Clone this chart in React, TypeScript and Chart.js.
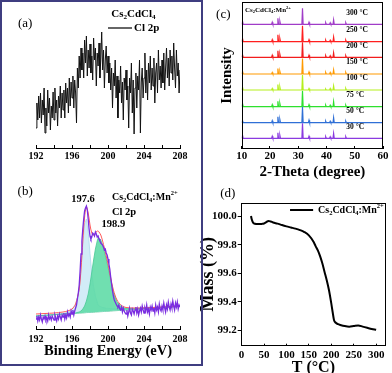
import React, { useEffect, useRef } from "react";
import { Chart, registerables } from "chart.js";

Chart.register(...registerables);

const SERIF = "'Liberation Serif', 'Times New Roman', serif";

// ---------------- Panel (a): Cs2CdCl4, Cl 2p XPS (0.1 eV grid from 192 eV) ----------------
const energyStart = 192;
const energyStep = 0.1;
const cl2pUndoped = [
  20, 45, 28, 52, 30, 55, 25, 48, 33, 60,
  15, 40, 22, 58, 35, 50, 18, 42, 30, 56,
  28, 60, 35, 48, 22, 52, 40, 62, 30, 55,
  38, 58, 30, 65, 45, 60, 35, 70, 42, 66,
  50, 72, 40, 68, 55, 25, 80, 60, 92, 70,
  100, 78, 95, 70, 108, 85, 112, 72, 98, 80,
  104, 75, 92, 68, 110, 88, 100, 62, 95, 82,
  105, 70, 90, 116, 78, 98, 60, 88, 102, 75,
  92, 65, 85, 58, 80, 40, 75, 62, 88, 50,
  72, 30, 68, 55, 82, 45, 66, 28, 70, 58,
  78, 48, 62, 20, 70, 55, 85, 35, 68, 14,
  60, 75, 40, 72, 58, 88, 15, 66, 80, 50,
  70, 95, 55, 78, 48, 85, 65, 92, 58, 80,
  62, 90, 45, 75, 85, 55, 98, 68, 82, 60,
  88, 65, 95, 58, 80, 100, 70, 90, 62, 98,
  75, 92, 68, 105, 80, 60, 98, 72, 85, 55,
  78,
];

// ---------------- Panel (b): Cs2CdCl4:Mn2+, Cl 2p XPS + fit ----------------
const cl2pDoped = [
  10, 13, 8, 12, 9, 14, 10, 7, 12, 10,
  13, 9, 11, 8, 14, 10, 12, 9, 13, 11,
  9, 14, 11, 8, 13, 10, 15, 12, 9, 14,
  12, 16, 10, 14, 11, 17, 13, 15, 12, 18,
  15, 19, 14, 18, 21, 24, 30, 36, 44, 58,
  75, 88, 100, 110, 118, 121, 123, 119, 110, 100,
  93, 90, 92, 96, 95, 93, 97, 95, 92, 93,
  90, 88, 86, 85, 84, 82, 79, 80, 76, 74,
  70, 65, 60, 52, 45, 38, 33, 29, 27, 25,
  23, 22, 24, 20, 19, 22, 17, 21, 18, 16,
  15, 19, 13, 17, 21, 16, 14, 20, 18, 15,
  19, 22, 16, 20, 14, 18, 21, 17, 23, 19,
  16, 21, 18, 24, 17, 20, 15, 22, 19, 23,
  18, 21, 16, 24, 19, 22, 17, 25, 20, 18,
  23, 19, 26, 21, 17, 24, 20, 27, 22, 19,
  25, 21, 28, 23, 19, 26, 22, 27, 20, 24,
  22,
];
const fitEnergy = [192, 193, 194, 195, 195.5, 196, 196.4, 196.8, 197.0, 197.2, 197.4, 197.6, 197.8, 198.0, 198.2, 198.4, 198.6, 198.8, 198.9, 199.0, 199.2, 199.4, 199.6, 199.8, 200.0, 200.3, 200.6, 201.0, 201.5, 202, 203, 204, 205, 206, 207, 208];
const fitBaseline = [13, 13.6, 14.2, 14.8, 15.1, 15.4, 15.6, 15.9, 16.0, 16.1, 16.2, 16.4, 16.5, 16.6, 16.7, 16.8, 17.0, 17.1, 17.1, 17.2, 17.3, 17.4, 17.6, 17.7, 17.8, 18.0, 18.2, 18.4, 18.7, 19.0, 19.6, 20.2, 20.8, 21.4, 22.0, 22.6];
const fitPeak1976 = [13.1, 13.7, 14.4, 15.5, 16.5, 19.5, 25, 39, 58, 84, 105, 110, 97.5, 75.5, 55.5, 42, 33, 27, 24, 23, 22.3, 21.4, 21.2, 20.7, 20.6, 20.3, 20.2, 20.3, 20.2, 20.2, 20.6, 21, 21.4, 21.9, 22.4, 22.9];
const fitPeak1989 = [13.1, 13.7, 14.4, 15.1, 15.4, 15.8, 16.1, 17, 18, 20, 23, 28, 35, 45, 57, 69, 80, 88, 91, 91, 89, 84, 77, 70, 62, 49, 37, 27, 22, 20.5, 20.3, 20.6, 21.1, 21.6, 22.1, 22.7];
const fitEnvelope = [15, 15.5, 16, 17, 18, 20, 25, 40, 60, 88, 112, 122, 116, 104, 96, 94, 96, 98, 98, 97, 94, 88, 81, 73, 65, 51, 39, 29, 23.5, 21.5, 21, 21.2, 21.5, 22, 22.5, 23];

// ---------------- Panel (c): XRD vs temperature ----------------
const xrdTemps = ["30 °C", "50 °C", "75 °C", "100 °C", "150 °C", "200 °C", "250 °C", "300 °C"];
const xrdOffsets = [10.7, 26.3, 42.3, 59, 75, 91.7, 107.3, 124.7];
const xrdPeakPositions = [10.3, 20.8, 22.8, 23.5, 31.5, 33.8, 39.7, 41.3, 42.5, 46.8];
const xrd30 = [3, 2, 5.5, 3, 15, 2, 1.5, 1.5, 5, 1.5];
const xrd50 = [2, 2, 6, 3, 16, 2.5, 1.5, 1.5, 5, 1.5];
const xrd75 = [3, 2, 5.5, 3, 16, 2, 1.5, 1.5, 5, 1.5];
const xrd100 = [2.5, 1.5, 5.5, 3, 15, 1.5, 1, 1.5, 4, 1.5];
const xrd150 = [2.5, 1.5, 5.5, 2.5, 15.5, 2, 1.5, 1.5, 4, 1.5];
const xrd200 = [2.5, 2, 6.5, 3, 15, 2, 1.5, 1.5, 4.5, 1.5];
const xrd250 = [3, 2, 7, 3, 16, 2, 1.5, 1.5, 4.5, 1.5];
const xrd300 = [3, 2, 6, 3, 16, 2, 1.5, 1.5, 4.5, 1.5];
const xrdColors = ["#8a3be0", "#2f6fd6", "#2ee02e", "#b5ef1c", "#ff9a00", "#f21d1d", "#ff1f1f", "#a03cc8"];

// ---------------- Panel (d): TGA ----------------
const tgaTemp = [21, 22, 24, 26, 30, 35, 40, 45, 50, 55, 60, 65, 70, 80, 90, 100, 110, 120, 130, 140, 150, 160, 165, 170, 175, 180, 185, 190, 195, 200, 203, 206, 210, 215, 220, 230, 240, 250, 260, 270, 280, 290, 300];
const tgaMass = [100.0, 99.985, 99.965, 99.952, 99.946, 99.944, 99.944, 99.945, 99.948, 99.957, 99.966, 99.962, 99.955, 99.947, 99.937, 99.928, 99.92, 99.912, 99.902, 99.888, 99.865, 99.822, 99.79, 99.76, 99.72, 99.67, 99.61, 99.55, 99.48, 99.39, 99.33, 99.275, 99.255, 99.245, 99.24, 99.232, 99.228, 99.232, 99.236, 99.228, 99.22, 99.212, 99.206];

// ---------------- helpers ----------------
type Seg = { t: string; s?: "sub" | "sup" };
const CS2CDCL4: Seg[] = [{ t: "Cs" }, { t: "2", s: "sub" }, { t: "CdCl" }, { t: "4", s: "sub" }];
const CS2CDCL4_MN: Seg[] = [...CS2CDCL4, { t: ":Mn" }, { t: "2+", s: "sup" }];

function drawRich(ctx: any, segs: Seg[], x: number, y: number, size: number, weight: string, align: string) {
  ctx.save();
  ctx.fillStyle = "#000";
  ctx.textBaseline = "middle";
  ctx.textAlign = "left";
  const fontFor = (s?: string) => `${weight} ${s ? size * 0.65 : size}px ${SERIF}`;
  let total = 0;
  for (const sg of segs) {
    ctx.font = fontFor(sg.s);
    total += ctx.measureText(sg.t).width;
  }
  let cx = align === "center" ? x - total / 2 : align === "right" ? x - total : x;
  for (const sg of segs) {
    ctx.font = fontFor(sg.s);
    const dy = sg.s === "sub" ? size * 0.3 : sg.s === "sup" ? -size * 0.35 : 0;
    ctx.fillText(sg.t, cx, y + dy);
    cx += ctx.measureText(sg.t).width;
  }
  ctx.restore();
}

const notesPlugin = {
  id: "notes",
  afterDraw(chart: any, _args: any, opts: any) {
    const items = (opts && opts.items) || [];
    const ctx = chart.ctx;
    const xs = chart.scales.x;
    const ys = chart.scales.y;
    for (const it of items) {
      if (it.kind === "line") {
        const py = ys.getPixelForValue(it.y);
        ctx.save();
        ctx.strokeStyle = "#000";
        ctx.lineWidth = it.width;
        ctx.beginPath();
        ctx.moveTo(xs.getPixelForValue(it.x1), py);
        ctx.lineTo(xs.getPixelForValue(it.x2), py);
        ctx.stroke();
        ctx.restore();
      } else {
        drawRich(ctx, it.segs, xs.getPixelForValue(it.x), ys.getPixelForValue(it.y), it.size, it.weight || "bold", it.align || "left");
      }
    }
  },
};

const framePlugin = {
  id: "frame",
  afterDraw(chart: any, _args: any, opts: any) {
    if (!opts || !opts.show) return;
    const { left, top, right, bottom } = chart.chartArea;
    const ctx = chart.ctx;
    ctx.save();
    ctx.strokeStyle = "#000";
    ctx.lineWidth = 1;
    const l = Math.round(left) + 0.5, t = Math.round(top) + 0.5;
    const r = Math.round(right) - 0.5, b = Math.round(bottom) - 0.5;
    ctx.strokeRect(l, t, r - l, b - t);
    ctx.restore();
  },
};

const tickFont = (size: number) => ({ family: SERIF, size, weight: "bold" as const });

function baseOptions(padding: any, notes: any[], frame: boolean, scales: any) {
  return {
    responsive: false,
    animation: false,
    devicePixelRatio: 1,
    events: [],
    layout: { padding },
    plugins: {
      legend: { display: false },
      tooltip: { enabled: false },
      notes: { items: notes },
      frame: { show: frame },
    },
    scales,
  };
}

function xpsXAxis(height: number, pad: number, title?: any) {
  return {
    type: "linear",
    min: 192,
    max: 208,
    afterFit: (s: any) => { s.height = height; },
    border: { display: true, color: "#000", width: 1 },
    grid: { display: true, drawOnChartArea: false, drawTicks: true, tickLength: -3, color: "#000" },
    ticks: {
      stepSize: 2,
      padding: pad,
      color: "#000",
      autoSkip: false,
      maxRotation: 0,
      font: tickFont(10),
      callback: (v: any) => (Math.round(v) % 4 === 0 ? String(v) : ""),
    },
    title: title || { display: false },
  };
}

function configA() {
  const data = cl2pUndoped.map((v, i) => ({ x: energyStart + i * energyStep, y: v }));
  const notes = [
    { kind: "text", x: 190.8, y: 124, segs: [{ t: "(a)" }], size: 13, weight: "normal", align: "center" },
    { kind: "text", x: 202.83, y: 134, segs: CS2CDCL4, size: 11, align: "center" },
    { kind: "line", x1: 200, x2: 202.67, y: 120, width: 1.2 },
    { kind: "text", x: 202.9, y: 120, segs: [{ t: "Cl 2p" }], size: 11, align: "left" },
  ];
  return {
    type: "line",
    data: { datasets: [{ data, borderColor: "#111", borderWidth: 1, pointRadius: 0, tension: 0 }] },
    options: baseOptions({ left: 36, right: 20, top: 20, bottom: 0 }, notes, false, {
      x: xpsXAxis(32, 5.4),
      y: { display: false, min: 0, max: 128 },
    }),
    plugins: [notesPlugin, framePlugin],
  };
}

function configB() {
  const pts = (arr: number[]) => arr.map((v, i) => ({ x: fitEnergy[i], y: v }));
  const raw = cl2pDoped.map((v, i) => ({ x: energyStart + i * energyStep, y: v }));
  const notes = [
    { kind: "text", x: 190.8, y: 137, segs: [{ t: "(b)" }], size: 13, weight: "normal", align: "center" },
    { kind: "text", x: 197.22, y: 129.7, segs: [{ t: "197.6" }], size: 10.5, align: "center" },
    { kind: "text", x: 200.44, y: 132, segs: CS2CDCL4_MN, size: 10, align: "left" },
    { kind: "text", x: 200.44, y: 116.3, segs: [{ t: "Cl 2p" }], size: 10.5, align: "left" },
    { kind: "text", x: 200.6, y: 105, segs: [{ t: "198.9" }], size: 10.5, align: "center" },
  ];
  return {
    type: "line",
    data: {
      datasets: [
        { data: pts(fitBaseline), borderColor: "#6cc9a0", borderWidth: 1, pointRadius: 0, fill: false, order: 4 },
        { data: pts(fitPeak1976), borderColor: "rgba(170,215,235,0.9)", borderWidth: 0.8, backgroundColor: "rgba(205,234,246,0.9)", pointRadius: 0, fill: "-1", order: 3 },
        { data: pts(fitPeak1989), borderColor: "#48c994", borderWidth: 0.8, backgroundColor: "rgba(92,219,165,0.88)", pointRadius: 0, fill: "-2", order: 2 },
        { data: pts(fitEnvelope), borderColor: "#ff5a5a", borderWidth: 1, pointRadius: 0, fill: false, tension: 0.3, order: 1 },
        { data: raw, borderColor: "#7a2de0", borderWidth: 1.3, pointRadius: 0, fill: false, tension: 0, order: 0 },
      ],
    },
    options: baseOptions({ left: 36, right: 20, top: 10, bottom: 0 }, notes, false, {
      x: xpsXAxis(44, 7.4, {
        display: true,
        text: "Binding Energy (eV)",
        color: "#000",
        font: { family: SERIF, size: 14.5, weight: "bold" },
        padding: { top: 0, bottom: 12.6 },
      }),
      y: { display: false, min: 0, max: 139 },
    }),
    plugins: [notesPlugin, framePlugin],
  };
}

function xrdTrace(heights: number[], offset: number) {
  const out: any[] = [{ x: 10, y: offset }];
  xrdPeakPositions.forEach((p, i) => {
    out.push({ x: p - 0.22, y: offset }, { x: p, y: offset + heights[i] }, { x: p + 0.22, y: offset });
  });
  out.push({ x: 60, y: offset });
  return out;
}

function configC() {
  const sets = [xrd30, xrd50, xrd75, xrd100, xrd150, xrd200, xrd250, xrd300];
  const datasets = sets.map((h, i) => ({
    data: xrdTrace(h, xrdOffsets[i]),
    borderColor: xrdColors[i],
    borderWidth: 1.2,
    pointRadius: 0,
    tension: 0,
    fill: false,
  }));
  const notes: any[] = [
    { kind: "text", x: 3.5, y: 134, segs: [{ t: "(c)" }], size: 13, weight: "normal", align: "center" },
    { kind: "text", x: 11.15, y: 139, segs: CS2CDCL4_MN, size: 7, align: "left" },
  ];
  xrdTemps.forEach((t, i) => {
    notes.push({ kind: "text", x: 47, y: xrdOffsets[i] + 11.5, segs: [{ t }], size: 7.5, align: "left" });
  });
  return {
    type: "line",
    data: { datasets },
    options: baseOptions({ left: 0, right: 6.5, top: 2, bottom: 0 }, notes, true, {
      x: {
        type: "linear",
        min: 10,
        max: 60,
        afterFit: (s: any) => { s.height = 31; },
        border: { display: false },
        grid: { display: true, drawOnChartArea: false, drawTicks: true, tickLength: -3, color: "#000" },
        ticks: { stepSize: 10, padding: 3.4, color: "#000", maxRotation: 0, autoSkip: false, font: tickFont(11) },
        title: {
          display: true,
          text: "2-Theta (degree)",
          color: "#000",
          font: { family: SERIF, size: 15, weight: "bold" },
          padding: { top: 0, bottom: -1.3 },
        },
      },
      y: {
        type: "linear",
        min: 0,
        max: 147,
        afterFit: (s: any) => { s.width = 53.7; },
        border: { display: false },
        grid: { display: false },
        ticks: { display: false },
        title: {
          display: true,
          text: "Intensity",
          color: "#000",
          font: { family: SERIF, size: 15, weight: "bold" },
          padding: { top: 29.7, bottom: 0 },
        },
      },
    }),
    plugins: [notesPlugin, framePlugin],
  };
}

function configD() {
  const data = tgaTemp.map((t, i) => ({ x: t, y: tgaMass[i] }));
  const notes = [
    { kind: "text", x: -30.6, y: 100.16, segs: [{ t: "(d)" }], size: 13, weight: "normal", align: "center" },
    { kind: "line", x1: 108, x2: 159.5, y: 100.042, width: 2 },
    { kind: "text", x: 170.4, y: 100.042, segs: CS2CDCL4_MN, size: 10, align: "left" },
  ];
  return {
    type: "line",
    data: { datasets: [{ data, borderColor: "#000", borderWidth: 2, pointRadius: 0, cubicInterpolationMode: "monotone", fill: false }] },
    options: baseOptions({ left: 0, right: 6, top: 22.7, bottom: 0 }, notes, true, {
      x: {
        type: "linear",
        min: -2,
        max: 322,
        afterFit: (s: any) => { s.height = 27.3; },
        border: { display: false },
        grid: { display: true, drawOnChartArea: false, drawTicks: true, tickLength: -2, color: "#000" },
        ticks: { stepSize: 50, includeBounds: false, padding: 4.7, color: "#000", maxRotation: 0, autoSkip: false, font: tickFont(11) },
        title: {
          display: true,
          text: "T (°C)",
          color: "#000",
          font: { family: SERIF, size: 16, weight: "bold" },
          padding: { top: 0, bottom: -4.6 },
        },
      },
      y: {
        type: "linear",
        min: 99.095,
        max: 100.093,
        afterFit: (s: any) => { s.width = 52.7; },
        border: { display: false },
        grid: { display: true, drawOnChartArea: false, drawTicks: true, tickLength: 3, color: "#000" },
        ticks: {
          stepSize: 0.2,
          includeBounds: false,
          padding: 1,
          color: "#000",
          autoSkip: false,
          font: tickFont(11),
          callback: (v: any) => Number(v).toFixed(1),
        },
        title: {
          display: true,
          text: "Mass (%)",
          color: "#000",
          font: { family: SERIF, size: 18, weight: "bold" },
          padding: { top: 9.2, bottom: 0 },
        },
      },
    }),
    plugins: [notesPlugin, framePlugin],
  };
}

function ChartPanel({ left, top, width, height, build }: any) {
  const ref = useRef<HTMLCanvasElement>(null);
  useEffect(() => {
    const chart = new Chart(ref.current as any, build() as any);
    return () => chart.destroy();
  }, []);
  return (
    <canvas
      ref={ref}
      width={width}
      height={height}
      style={{ position: "absolute", left, top, width, height }}
    />
  );
}

export default function App() {
  return (
    <div
      style={{
        position: "fixed",
        left: 0,
        top: 0,
        width: 392,
        height: 373,
        background: "#fff",
        overflow: "hidden",
      }}
    >
      <ChartPanel left={0} top={0} width={200} height={180} build={configA} />
      <ChartPanel left={0} top={180} width={200} height={193} build={configB} />
      <ChartPanel left={188} top={0} width={204} height={180} build={configC} />
      <ChartPanel left={188} top={180} width={204} height={193} build={configD} />
      <div
        style={{
          position: "absolute",
          left: 0,
          top: 0,
          width: 203,
          height: 366,
          border: "2px solid #3f3d80",
          boxSizing: "border-box",
          pointerEvents: "none",
        }}
      />
    </div>
  );
}
